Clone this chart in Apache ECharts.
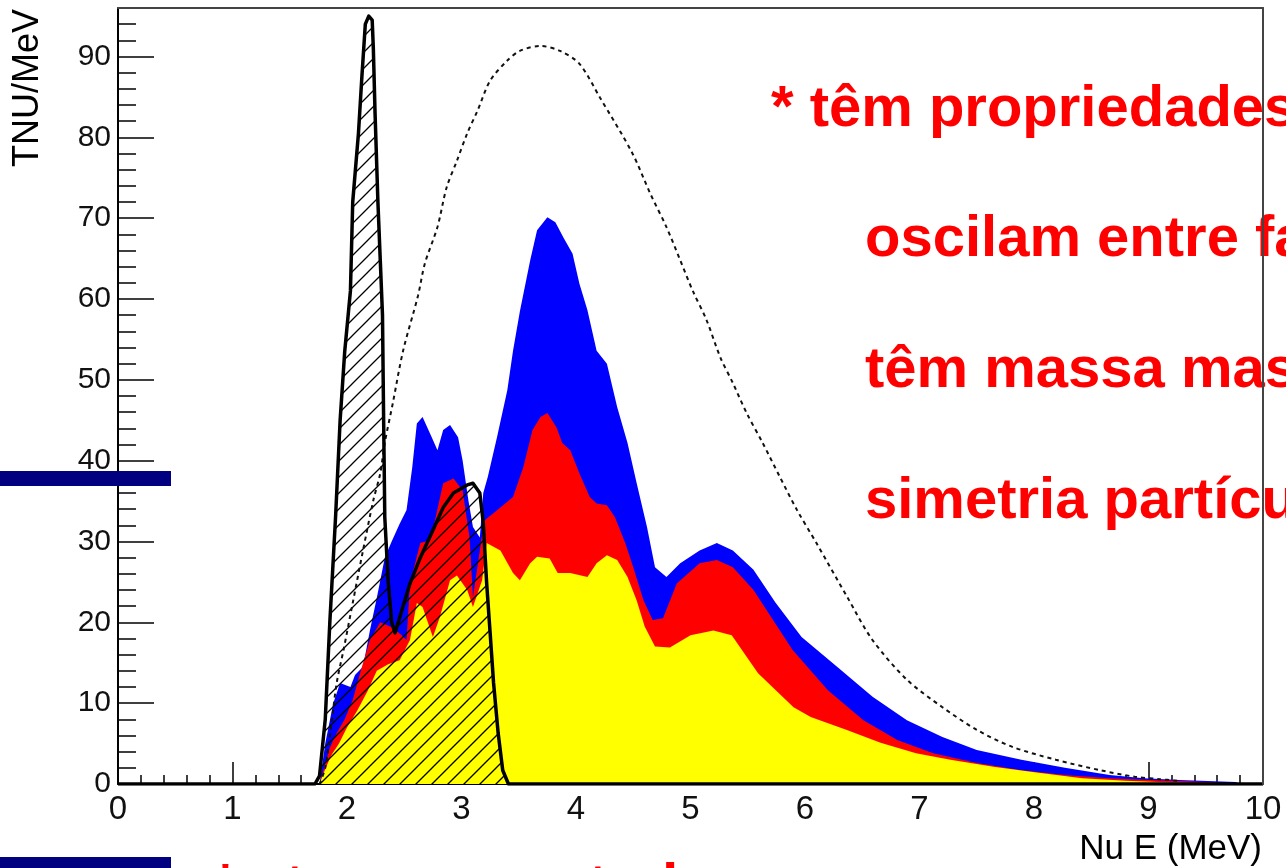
<!DOCTYPE html>
<html>
<head>
<meta charset="utf-8">
<script src="https://cdn.jsdelivr.net/npm/echarts@6/dist/echarts.min.js"></script>
<style>
html,body{margin:0;padding:0;background:#fff;}
#chart{width:1286px;height:868px;}
</style>
</head>
<body>
<div id="chart"></div>
<script>
// Energy (MeV) vs TNU/MeV
var blueTop = [[1.76,0],[1.81,5],[1.88,10],[1.94,12.5],[2.03,12],[2.07,13.5],[2.14,14.5],[2.20,19],[2.26,23],[2.33,28],[2.39,30],[2.46,32.2],[2.52,33.9],[2.57,39.2],[2.61,44.6],[2.66,45.4],[2.74,42.9],[2.79,41.3],[2.84,43.8],[2.90,44.4],[2.97,42.9],[3.01,40],[3.06,35.1],[3.10,31.8],[3.16,30.5],[3.19,36],[3.23,38],[3.31,42.9],[3.40,48.7],[3.45,53.6],[3.51,58.5],[3.60,64.8],[3.66,68.5],[3.75,70.1],[3.82,69.5],[3.89,67.6],[3.97,65.6],[4.03,61.9],[4.10,58.6],[4.18,53.6],[4.27,52],[4.36,46.6],[4.45,42.2],[4.53,37.2],[4.62,31.8],[4.69,26.8],[4.79,25.6],[4.91,27.3],[5.08,28.9],[5.23,29.8],[5.37,28.9],[5.55,26.5],[5.74,22.5],[5.97,18.2],[6.28,14.5],[6.59,10.8],[6.89,7.9],[7.20,5.8],[7.50,4.2],[7.89,3],[8.27,2],[8.66,1.1],[8.96,0.7],[9.27,0.5],[9.76,0.25],[9.8,0]];
var redTop = [[1.76,0],[1.80,2],[1.85,4.5],[1.91,6.3],[1.98,8],[2.05,10.4],[2.12,14],[2.20,17.8],[2.29,20],[2.39,19.4],[2.47,18.5],[2.52,17.8],[2.55,24.8],[2.64,29.8],[2.73,30.2],[2.84,37.2],[2.93,37.8],[3.01,36.3],[3.07,30.5],[3.10,23.1],[3.16,28.9],[3.20,32.6],[3.34,34.2],[3.45,35.5],[3.54,39.2],[3.62,43.8],[3.69,45.4],[3.75,45.9],[3.83,44.1],[3.88,42.2],[3.95,41.3],[4.03,38.4],[4.12,35.5],[4.18,34.7],[4.27,34.5],[4.34,33],[4.43,29.8],[4.50,26.8],[4.59,22.7],[4.67,20.3],[4.76,20.5],[4.88,24.8],[5.08,27.3],[5.23,27.7],[5.37,26.8],[5.55,24],[5.89,16.6],[6.20,11.6],[6.51,7.9],[6.81,5.4],[7.12,3.8],[7.50,2.6],[7.89,1.7],[8.27,1.1],[8.66,0.7],[9.0,0.5],[9.5,0.25],[9.8,0]];
var yellowTop = [[1.76,0],[1.80,1.5],[1.86,3.5],[1.93,5],[2.00,7],[2.09,9.1],[2.18,11.5],[2.26,14],[2.36,14.8],[2.46,15.3],[2.55,17.8],[2.61,22.4],[2.66,21.9],[2.75,18.2],[2.81,20.6],[2.90,25.2],[2.96,25.8],[3.05,24],[3.10,21.9],[3.18,25.2],[3.22,29.8],[3.34,28.9],[3.45,26.1],[3.51,25.2],[3.60,27.3],[3.66,28.1],[3.77,27.9],[3.84,26.1],[3.95,26.1],[4.10,25.6],[4.18,27.3],[4.27,28.3],[4.36,27.7],[4.45,25.6],[4.53,22.7],[4.60,19.5],[4.69,17],[4.82,16.9],[5.0,18.4],[5.20,19],[5.36,18.4],[5.59,13.7],[5.90,9.5],[6.05,8.3],[6.36,6.7],[6.66,5.1],[6.97,3.8],[7.27,3],[7.66,2.1],[8.04,1.4],[8.42,0.7],[8.80,0.4],[9.19,0.2],[9.6,0.1],[9.8,0]];
var noOscillation = [[1.76,0],[1.81,2],[1.86,7],[1.91,12.5],[1.97,16.6],[2.05,22.4],[2.14,28.9],[2.23,35.1],[2.29,38.4],[2.33,42.2],[2.40,47.1],[2.49,53.6],[2.62,60.4],[2.68,64.4],[2.79,68.9],[2.87,73.8],[2.96,77.1],[3.05,80.5],[3.14,83.3],[3.25,87],[3.40,89.5],[3.51,90.7],[3.69,91.3],[3.86,90.7],[4.03,89.1],[4.21,84.9],[4.49,78.1],[4.65,73],[4.79,68.9],[4.91,64.8],[5.02,61],[5.14,57.4],[5.26,52.8],[5.37,49.6],[5.49,45.9],[5.63,42.2],[5.78,38],[5.93,33.9],[6.10,29.8],[6.37,23.1],[6.59,17.8],[6.89,12.9],[7.20,9.5],[7.50,6.7],[7.81,4.6],[8.19,3],[8.58,1.7],[8.88,0.9],[9.1,0.6],[9.25,0.4]];
var geoHatched = [[0,0],[1.72,0],[1.76,1],[1.81,8],[1.85,20],[1.90,33],[1.94,45],[1.98,53.5],[2.03,61],[2.05,72],[2.10,80.5],[2.13,87.5],[2.16,94],[2.19,95],[2.22,94.5],[2.23,91],[2.245,83],[2.27,72],[2.29,65],[2.31,58],[2.32,45],[2.33,33],[2.36,25],[2.39,20],[2.42,18.7],[2.46,20.6],[2.55,24.8],[2.64,28],[2.75,31.4],[2.84,34.2],[2.93,36],[3.05,37],[3.10,37.2],[3.16,36],[3.19,32.3],[3.22,24.8],[3.25,18.7],[3.28,12.5],[3.32,6.3],[3.36,1.7],[3.41,0],[10,0]];

var xTicks = [0,1,2,3,4,5,6,7,8,9,10];
var yTicks = [0,10,20,30,40,50,60,70,80,90];
var xTitle = 'Nu E (MeV)';
var yTitle = 'TNU/MeV';
var slideLines = ['* têm propriedades estranhas:', 'oscilam entre famílias', 'têm massa mas muito pequena', 'simetria partícula-antipartícula'];
var slideBottom = '* atravessam tudo';

var FONT = "'Liberation Sans', Arial, Helvetica, sans-serif";

// hatch pattern
var hatch = document.createElement('canvas');
hatch.width = 16; hatch.height = 16;
var hc = hatch.getContext('2d');
hc.strokeStyle = '#000'; hc.lineWidth = 1.3;
hc.beginPath();
hc.moveTo(0,16); hc.lineTo(16,0);
hc.moveTo(-2,2); hc.lineTo(2,-2);
hc.moveTo(14,18); hc.lineTo(18,14);
hc.stroke();

var chart = echarts.init(document.getElementById('chart'), null, {renderer:'canvas'});

var graphics = [];
var baselines = [130, 260, 391, 522];
slideLines.forEach(function(t, i){
  graphics.push({type:'text', z:1, x: i===0 ? 771 : 865, y: baselines[i]-20,
    style:{text:t, fill:'#ff0000', font:'bold 58px ' + FONT, align:'left', verticalAlign:'middle'}});
});
graphics.push({type:'text', z:1, x:214, y:888,
  style:{text:slideBottom, fill:'#ff0000', font:'bold 58px ' + FONT, align:'left', verticalAlign:'middle'}});
graphics.push({type:'rect', z:10, shape:{x:0,y:471,width:171,height:15}, style:{fill:'#000080'}});
graphics.push({type:'rect', z:10, shape:{x:0,y:857,width:171,height:11}, style:{fill:'#000080'}});
graphics.push({type:'text', z:6, x:1262, y:849,
  style:{text:xTitle, fill:'#000', font:'35px ' + FONT, align:'right', verticalAlign:'middle'}});
graphics.push({type:'text', z:6, x:28, y:9, rotation:Math.PI/2,
  style:{text:yTitle, fill:'#000', font:'36px ' + FONT, align:'right', verticalAlign:'middle'}});

function isTick(list, v){ return list.indexOf(Math.round(v*1000)/1000) >= 0; }

var option = {
  animation:false,
  backgroundColor:'#ffffff',
  grid:{left:118, right:23, top:8, bottom:84, containLabel:false},
  graphic: graphics,
  xAxis:[{
    type:'value', min:0, max:10, interval:1,
    axisLine:{show:true, onZero:false, lineStyle:{color:'#000', width:2}},
    axisTick:{show:true, inside:true, length:22, lineStyle:{color:'#000', width:1.5}},
    minorTick:{show:true, splitNumber:5, length:9, lineStyle:{color:'#000', width:1.5}},
    splitLine:{show:false},
    axisLabel:{fontSize:33, color:'#111', fontFamily:FONT, margin:9,
      formatter:function(v){ return isTick(xTicks, v) ? String(v) : ''; }}
  },{
    type:'value', min:0, max:10, position:'top', z:5,
    axisLine:{show:true, onZero:false, lineStyle:{color:'#444', width:2}},
    axisTick:{show:false}, axisLabel:{show:false}, splitLine:{show:false}
  }],
  yAxis:[{
    type:'value', min:0, max:96, interval:10,
    axisLine:{show:true, onZero:false, lineStyle:{color:'#000', width:2}},
    axisTick:{show:true, inside:true, length:36, lineStyle:{color:'#000', width:1.5}},
    minorTick:{show:true, splitNumber:5, length:18, lineStyle:{color:'#000', width:1.5}},
    splitLine:{show:false},
    axisLabel:{fontSize:30, color:'#111', fontFamily:FONT, margin:7, showMaxLabel:false,
      formatter:function(v){ return isTick(yTicks, v) ? String(v) : ''; }}
  },{
    type:'value', min:0, max:96, position:'right', z:5,
    axisLine:{show:true, onZero:false, lineStyle:{color:'#444', width:2}},
    axisTick:{show:false}, axisLabel:{show:false}, splitLine:{show:false}
  }],
  series:[
    {type:'line', name:'total', data:blueTop, showSymbol:false, symbol:'none',
      lineStyle:{width:0}, areaStyle:{color:'#0000ff', opacity:1}},
    {type:'line', name:'partial', data:redTop, showSymbol:false, symbol:'none',
      lineStyle:{width:0}, areaStyle:{color:'#ff0000', opacity:1}},
    {type:'line', name:'low', data:yellowTop, showSymbol:false, symbol:'none',
      lineStyle:{width:0}, areaStyle:{color:'#ffff00', opacity:1}},
    {type:'line', name:'no oscillation', data:noOscillation, showSymbol:false, symbol:'none', smooth:0.3,
      lineStyle:{width:2, color:'#111', type:[4,4]}},
    {type:'line', name:'geo', data:geoHatched, showSymbol:false, symbol:'none',
      lineStyle:{width:3.5, color:'#000', join:'round'}, areaStyle:{color:{image:hatch, repeat:'repeat'}, opacity:1}}
  ]
};
chart.setOption(option);
</script>
</body>
</html>
